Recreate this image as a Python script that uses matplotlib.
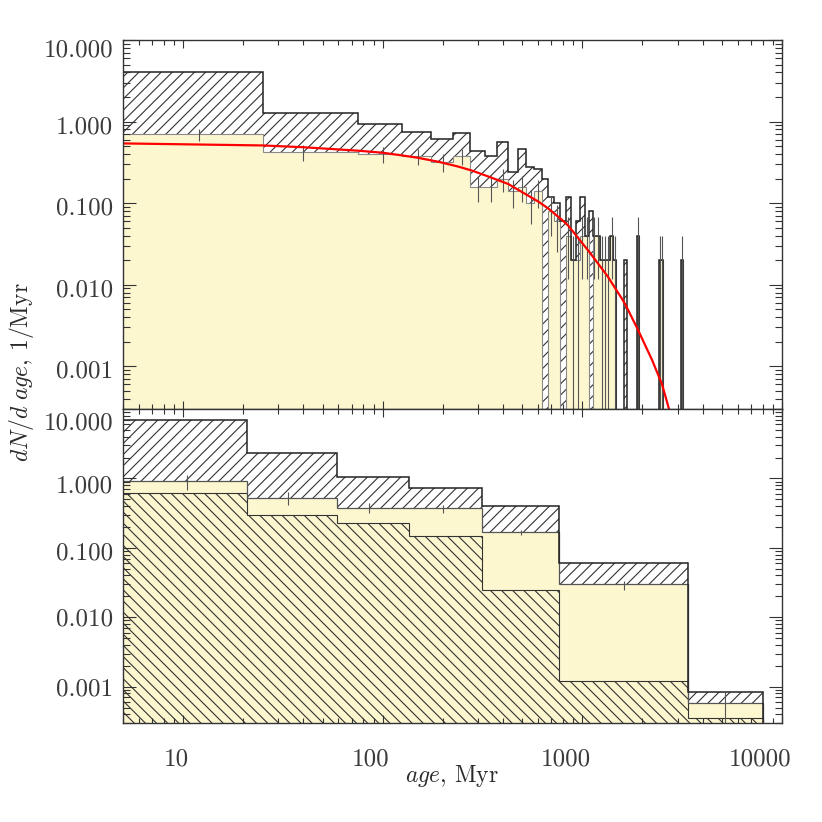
import numpy as np
import matplotlib.pyplot as plt
from matplotlib.ticker import LogLocator, FixedLocator, FormatStrFormatter, NullFormatter
from matplotlib.transforms import ScaledTranslation

plt.rcParams['font.family'] = ['cmr10', 'DejaVu Serif']
plt.rcParams['mathtext.fontset'] = 'cm'
plt.rcParams['axes.formatter.use_mathtext'] = True
plt.rcParams['hatch.linewidth'] = 0.8

# верхняя панель: бины по 50 млн лет, число звёзд в бине
bin_w = 50
top_edges = np.r_[1, np.arange(25, 3276, bin_w)]
top_all = [203, 64, 47, 37, 31, 36, 22, 19, 28, 12,
           23, 14, 13, 10, 6, 5, 3, 6, 1, 3,
           6, 2, 4, 2, 2, 1, 1, 1, 2, 1,
           0, 0, 0, 1, 0, 0, 0, 0, 2, 0,
           0, 0, 0, 0, 0, 0, 0, 0, 0, 1,
           1, 0, 0, 0, 0, 0, 0, 0, 0, 0,
           0, 0, 0, 1, 0, 0]
top_sel = [35, 21, 20, 19, 16, 19, 8, 8, 10, 7,
           8, 5, 7, 0, 4, 3, 0, 2, 1, 1,
           2, 2, 0, 2, 2, 1, 1, 1, 2, 1,
           0, 0, 0, 0, 0, 0, 0, 0, 2, 0,
           0, 0, 0, 0, 0, 0, 0, 0, 0, 1,
           1, 0, 0, 0, 0, 0, 0, 0, 0, 0,
           0, 0, 0, 1, 0, 0]

# красная кривая (модель), точки
fit_age = [5, 25, 40, 75, 100, 125, 150, 192, 240, 281, 342, 425, 537, 608, 679,
           793, 850, 1080, 1335, 1587, 1656, 1900, 2233, 2508, 2716]
fit_val = [0.54, 0.51, 0.485, 0.44, 0.415, 0.385, 0.36, 0.32, 0.28, 0.25, 0.21,
           0.172, 0.123, 0.103, 0.085, 0.062, 0.053, 0.0255, 0.0128,
           0.0066, 0.0055, 0.0028, 0.0012, 0.0006, 0.0003]

# нижняя панель
bot_edges = [1, 21, 59, 135, 315, 760, 3390, 8000]
bot_all = [6.95, 2.30, 1.06, 0.72, 0.40, 0.0615, 8.3e-4]
bot_sel = [0.92, 0.53, 0.38, 0.37, 0.17, 0.030, 5.9e-4]
bot_sub = [0.625, 0.30, 0.226, 0.146, 0.0249, 0.00119, 3.55e-4]
bot_err_x = [10.5, 33.6, 85, 200, 494, 1622, 5210]
bot_err_lo = [0.68, 0.42, 0.32, 0.32, 0.155, 0.025, 1e-5]
bot_err_hi = [1.12, 0.64, 0.44, 0.42, 0.18, 0.033, 8.3e-4]

yellow = '#fdf7d0'
floor = 1e-5


def bars(ax, edges, vals, **kw):
    edges = np.asarray(edges, float)
    vals = np.asarray(vals, float)
    m = vals > 0
    ax.bar(edges[:-1][m], vals[m] - floor, width=np.diff(edges)[m],
           bottom=floor, align='edge', **kw)


def outline(ax, edges, vals, **kw):
    vals = np.maximum(np.asarray(vals, float), floor)
    ax.stairs(vals, edges, baseline=floor, **kw)


def style(ax):
    ax.set_xscale('log')
    ax.set_yscale('log')
    ax.set_xlim(5, 10000)
    ax.set_ylim(3e-4, 10)
    ax.yaxis.set_major_locator(FixedLocator([0.001, 0.01, 0.1, 1, 10]))
    ax.yaxis.set_major_formatter(FormatStrFormatter('%.3f'))
    ax.yaxis.set_minor_locator(LogLocator(base=10, subs=np.arange(2, 10) * 1.0, numticks=20))
    ax.yaxis.set_minor_formatter(NullFormatter())
    ax.xaxis.set_major_locator(FixedLocator([10, 100, 1000, 10000]))
    ax.xaxis.set_major_formatter(FormatStrFormatter('%d'))
    ax.xaxis.set_minor_locator(LogLocator(base=10, subs=np.arange(2, 10) * 1.0, numticks=20))
    ax.xaxis.set_minor_formatter(NullFormatter())
    ax.tick_params(which='both', direction='in', top=True, right=True,
                   color='#333333', labelcolor='#3a3a3a', labelsize=18, width=0.8)
    ax.tick_params(axis='x', which='major', length=6, pad=18)
    ax.tick_params(axis='x', which='minor', length=3.5)
    ax.tick_params(axis='y', which='major', length=9.5, pad=7)
    ax.tick_params(axis='y', which='minor', length=5)
    for s in ax.spines.values():
        s.set_color('#333333')
        s.set_linewidth(1.0)


def shift_labels(fig, labels, dx, dy):
    # подписи сдвинуты так же, как в исходном графике (в пикселях)
    for lab, sx, sy in zip(labels, dx, dy):
        lab.set_transform(lab.get_transform() +
                          ScaledTranslation(sx / 100.0, -sy / 100.0, fig.dpi_scale_trans))


fig = plt.figure(figsize=(8.22, 8.22), dpi=100)
ax1 = fig.add_axes([123 / 822, 1 - 409 / 822, 659 / 822, 369 / 822])
ax2 = fig.add_axes([123 / 822, 1 - 723 / 822, 659 / 822, 314 / 822])

# ---- верхняя панель ----
v_all = np.array(top_all) / bin_w
v_sel = np.array(top_sel) / bin_w
bars(ax1, top_edges, v_all, facecolor='white', edgecolor='#333333', hatch='///', linewidth=0)
bars(ax1, top_edges, v_sel, facecolor=yellow, edgecolor='none', linewidth=0)
outline(ax1, top_edges, v_sel, color='#8a8a8a', linewidth=0.8)
outline(ax1, top_edges, v_all, color='#222222', linewidth=1.1)

centers = (top_edges[:-1] + top_edges[1:]) / 2.0
centers[:2] = [12, 40]
n = np.array(top_sel, float)
m = n > 0
err = np.sqrt(n[m]) / bin_w
ax1.vlines(centers[m], np.maximum(v_sel[m] - err, floor), v_sel[m] + err,
           color='#555555', linewidth=0.8)
ax1.plot(fit_age, fit_val, color='red', linewidth=1.6)
style(ax1)
ax1.tick_params(axis='x', labelbottom=False)

# ---- нижняя панель ----
bars(ax2, bot_edges, bot_all, facecolor='white', edgecolor='#333333', hatch='///', linewidth=0)
bars(ax2, bot_edges, bot_sel, facecolor=yellow, edgecolor='none', linewidth=0)
bars(ax2, bot_edges, bot_sub, facecolor='none', edgecolor='#333333', hatch='\\\\\\', linewidth=0)
outline(ax2, bot_edges, bot_sub, color='#333333', linewidth=0.8)
outline(ax2, bot_edges, bot_sel, color='#555555', linewidth=0.9)
outline(ax2, bot_edges, bot_all, color='#222222', linewidth=1.1)
ax2.vlines(bot_err_x, bot_err_lo, bot_err_hi, color='#555555', linewidth=0.8)
style(ax2)

fig.text(452 / 822, 1 - 776 / 822, r'$age$, Myr', ha='center', va='center',
         fontsize=17, color='#2a2a2a')
fig.text(22 / 822, 1 - 372 / 822, r'$dN/d\ age$, 1/Myr', ha='center', va='center',
         rotation=90, fontsize=17, color='#2a2a2a')

fig.canvas.draw()
# подписи 0.001, 0.01, 0.1, 1, 10
shift_labels(fig, ax1.get_yticklabels(), [0] * 5, [3, 3, 3, 3, 8])
shift_labels(fig, ax2.get_yticklabels(), [0] * 5, [0, 0, 3, 6, 12])
# подписи 10, 100, 1000, 10000
shift_labels(fig, ax2.get_xticklabels(), [-7, -12, -17, -22], [0] * 4)

fig.savefig('out.png', dpi=100)
